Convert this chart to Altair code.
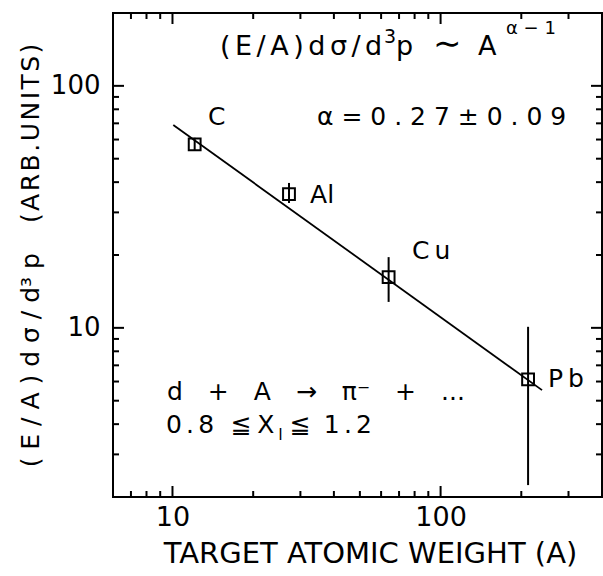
import altair as alt
import pandas as pd

# ---- data ----
targets = ["C", "Al", "Cu", "Pb"]
weights = [12.1, 27.2, 64.0, 212.0]
values = [57.3, 35.7, 16.2, 6.12]
err_lo = [54.0, 32.8, 12.8, 2.24]
err_hi = [61.0, 39.7, 19.6, 10.1]

fit_A = [10.07, 239.0]
fit_val = [68.9, 5.53]

x_minor = [7, 8, 9, 20, 30, 40, 50, 60, 70, 80, 90, 200, 300]
x_major = [10, 100]
y_minor = [3, 4, 5, 6, 7, 8, 9, 20, 30, 40, 50, 60, 70, 80, 90]
y_major = [10, 100]

S6 = "\u2006"   # six-per-em space
S9 = "\u2009"   # thin space
EM = "\u2003"

ann_text = [
    S6.join("(E/A)dσ/d"), "3", "p", "∼", "A", "α − 1",
    " ".join("α=0.27±0.09"),
    "C", "Al", "C" + S9 + "u", "P" + S9 + "b",
    "d" + EM + "+" + EM + "A" + EM + "→" + EM + "π⁻" + EM + "+" + EM + "...",
    S6.join("0.8"), "≦", "X", "l", "≦", S6.join("1.2"),
]
ann_A = [15.04, 61.5, 68.2, 93.7, 137.9, 175.4,
         34.6,
         13.57, 32.6, 78.2, 251.6,
         9.54,
         9.46, 16.5, 20.7, 24.8, 27.4, 36.7]
ann_v = [134.1, 150.3, 134.1, 134.1, 134.1, 163.8,
         68.9,
         68.9, 32.8, 19.25, 5.70,
         5.03,
         3.66, 3.66, 3.66, 3.44, 3.66, 3.66]
ann_fs = [27, 19, 27, 34, 27, 18,
          25,
          25, 25, 25, 25,
          25,
          25, 25, 25, 16, 25, 25]

FONT = "DejaVu Sans"
W, H = 489, 484

pts = pd.DataFrame({"t": targets, "A": weights, "v": values, "lo": err_lo, "hi": err_hi})
fit = pd.DataFrame({"A": fit_A, "v": fit_val})
ann = pd.DataFrame({"text": ann_text, "A": ann_A, "v": ann_v, "fs": ann_fs})

xs = alt.Scale(type="log", domain=[6, 400], nice=False, zero=False)
ys = alt.Scale(type="log", domain=[2, 200], nice=False, zero=False)

y_title = (" ".join("(E/A)dσ/d") + "³" + " p" + EM + S9 + "\u200a".join("(ARB.UNITS)"))

xaxis = alt.Axis(
    values=[10, 100], labelExpr="format(datum.value, '.0f')",
    grid=False, ticks=False, tickSize=0, domain=False,
    labelFont=FONT, labelFontSize=27, labelColor="black",
    labelBaseline="alphabetic", labelPadding=28,
    title="TARGET ATOMIC WEIGHT (A)", titleFont=FONT, titleFontSize=29,
    titleFontWeight="normal", titleColor="black",
    titleX=257, titleY=65, titleAlign="center", titleBaseline="alphabetic",
)
yaxis = alt.Axis(
    values=[10, 100], labelExpr="format(datum.value, '.0f')",
    grid=False, ticks=False, tickSize=0, domain=False,
    labelFont=FONT, labelFontSize=26, labelColor="black",
    labelAlign="right", labelBaseline="middle", labelPadding=13,
    title=y_title, titleFont=FONT, titleFontSize=25,
    titleFontWeight="normal", titleColor="black",
    titleAngle=270, titleX=-75, titleY=242, titleAlign="center",
    titleBaseline="alphabetic",
)


def X(f="A"):
    return alt.X(f"{f}:Q", scale=xs, axis=xaxis)


def Y(f="v"):
    return alt.Y(f"{f}:Q", scale=ys, axis=yaxis)


line = alt.Chart(fit).mark_line(color="black", strokeWidth=1.8).encode(x=X(), y=Y())

errs = alt.Chart(pts).mark_rule(color="black", strokeWidth=2).encode(
    x=X(), y=Y("lo"), y2="hi:Q")

squares = alt.Chart(pts).mark_point(
    shape="square", filled=False, color="black", size=140, strokeWidth=2, opacity=1
).encode(x=X(), y=Y())

texts = alt.Chart(ann).mark_text(
    align="left", baseline="alphabetic", font=FONT, color="black"
).encode(x=X(), y=Y(), text="text:N", size=alt.Size("fs:Q", scale=None))

# inward ticks on all four sides
def xticks(vals, length):
    df = pd.DataFrame({"A": vals})
    bottom = alt.Chart(df).mark_rule(color="black", strokeWidth=2).encode(
        x=X(), y=alt.value(H), y2=alt.value(H - length))
    top = alt.Chart(df).mark_rule(color="black", strokeWidth=2).encode(
        x=X(), y=alt.value(0), y2=alt.value(length))
    return bottom + top


def yticks(vals, length):
    df = pd.DataFrame({"v": vals})
    left = alt.Chart(df).mark_rule(color="black", strokeWidth=2).encode(
        y=Y(), x=alt.value(0), x2=alt.value(length))
    right = alt.Chart(df).mark_rule(color="black", strokeWidth=2).encode(
        y=Y(), x=alt.value(W), x2=alt.value(W - length))
    return left + right


chart = alt.layer(
    line, errs, squares, texts,
    xticks(x_minor, 6), xticks(x_major, 11),
    yticks(y_minor, 6), yticks(y_major, 11),
).properties(
    width=W, height=H,
    autosize="none",
    padding={"left": 113, "top": 13, "right": 1, "bottom": 79},
    background="white",
).configure_view(stroke="black", strokeWidth=2)

chart.save("out.html", embed_options={"renderer": "svg", "actions": False})
